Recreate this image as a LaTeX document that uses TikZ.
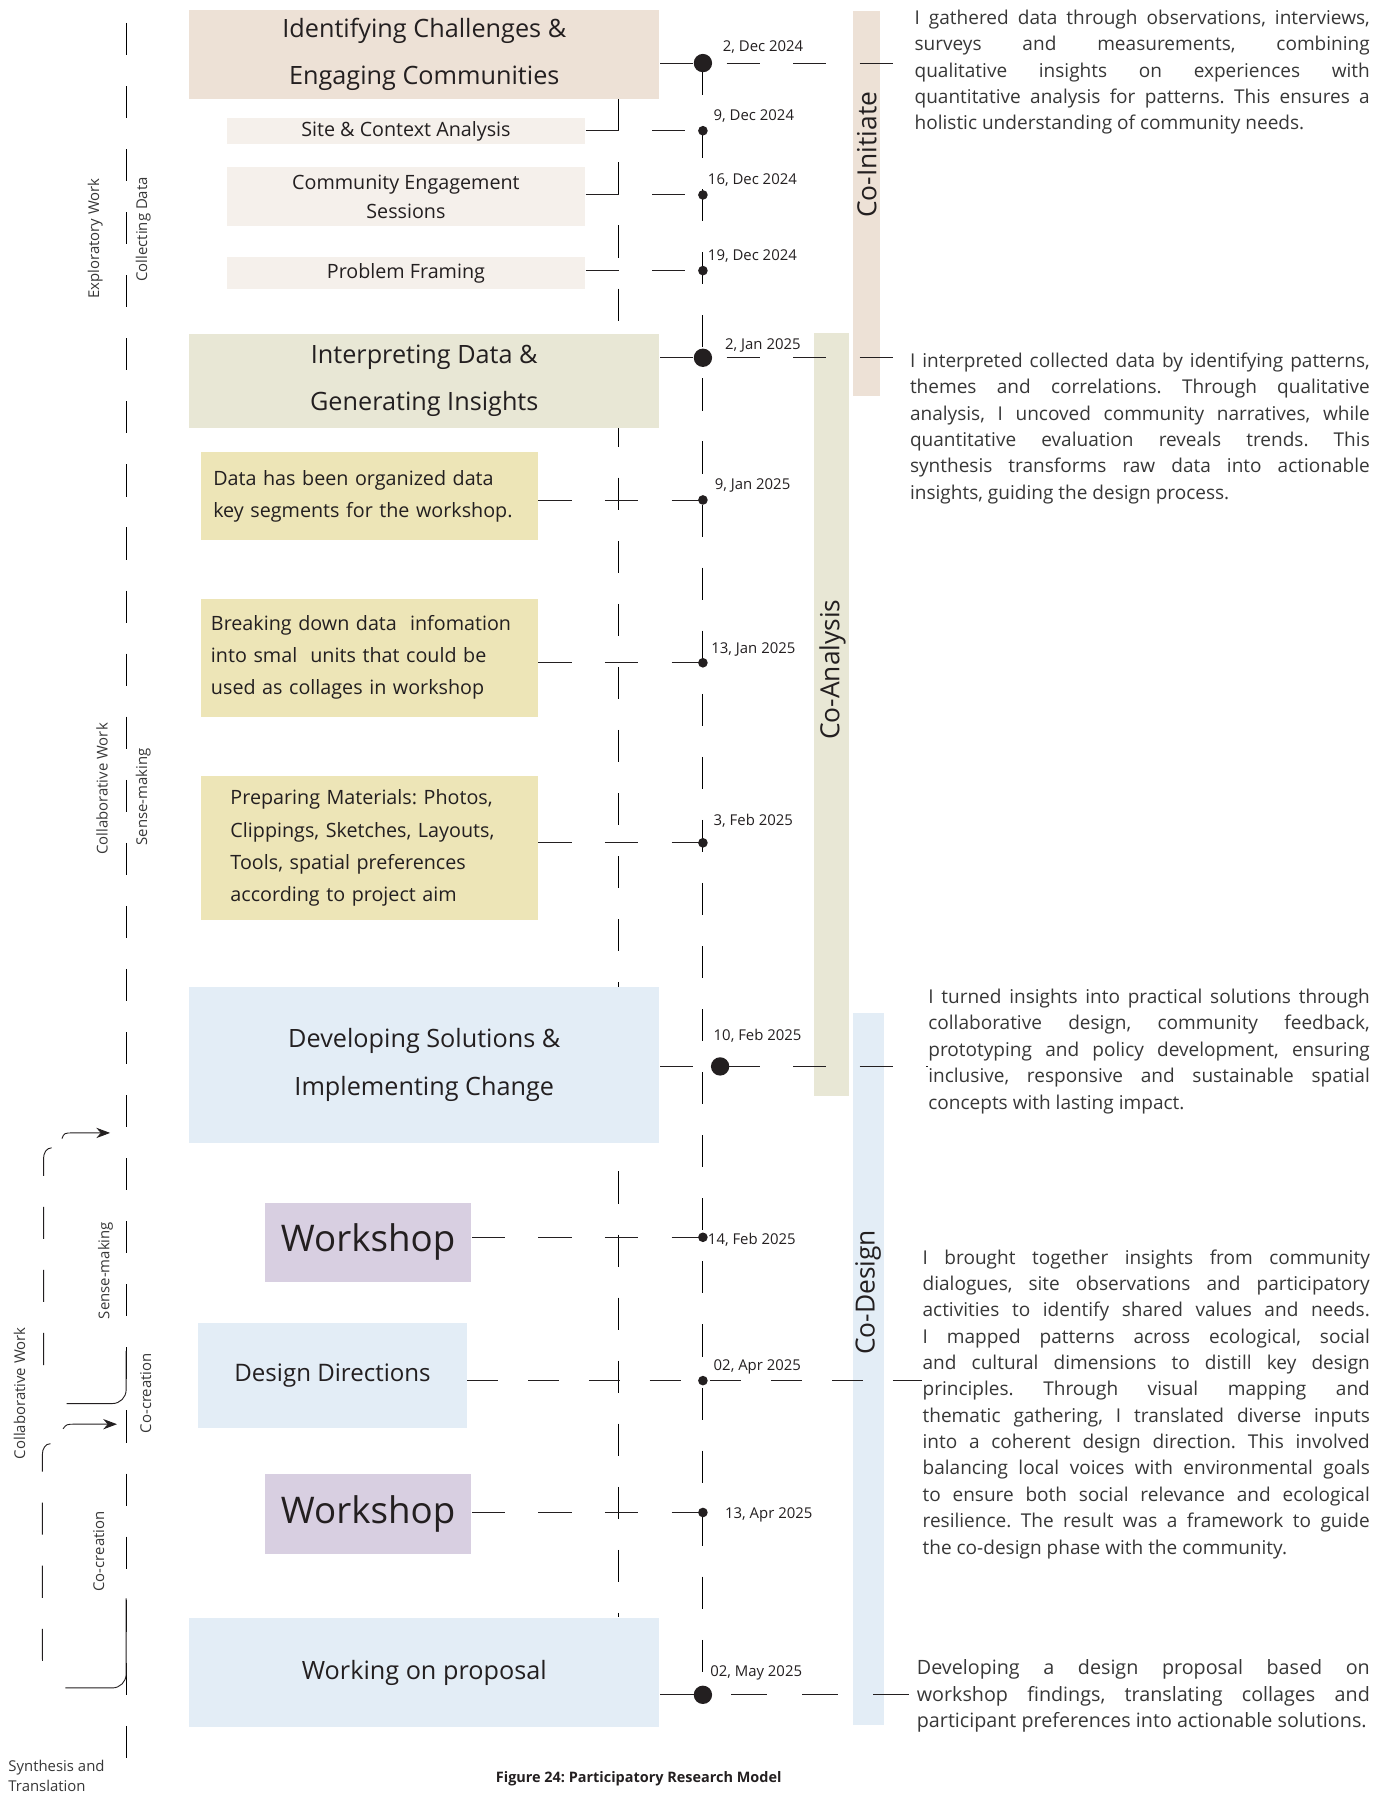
\documentclass[tikz,border=0pt]{standalone}
\usepackage{fontspec}
\setmainfont{Open Sans}
\usepackage{tikz}
\usetikzlibrary{backgrounds,arrows.meta}
\definecolor{ink}{RGB}{35,31,32}
\definecolor{notegray}{RGB}{55,55,55}
\definecolor{challengebg}{RGB}{237,225,214}
\definecolor{framebg}{RGB}{245,240,235}
\definecolor{insightbg}{RGB}{232,231,213}
\definecolor{databg}{RGB}{237,229,183}
\definecolor{solutionbg}{RGB}{227,237,246}
\definecolor{workshopbg}{RGB}{216,207,225}
\frenchspacing

\begin{document}
\begin{tikzpicture}[x=0.5pt,y=-0.5pt,>={Stealth[length=6pt,width=4.5pt]},line width=0.6pt,ink,
  box/.style={inner sep=0pt,align=center},
  titlebox/.style={box,minimum width=205pt,font=\fontsize{11}{20.5}\selectfont},
  framebox/.style={box,fill=framebg,minimum width=156pt,font=\fontsize{8.6}{12.5}\selectfont},
  databox/.style={fill=databg,inner ysep=0pt,align=left,font=\fontsize{8.6}{14}\selectfont},
  dashline/.style={dash pattern=on 14.5pt off 14.5pt},
  railline/.style={dash pattern=on 14pt off 13.5pt},
  datelbl/.style={anchor=west,inner sep=0pt,font=\fontsize{6.5}{8}\selectfont},
  note/.style={anchor=north west,inner sep=0pt,align=justify,text=notegray,font=\fontsize{8.3}{11.5}\selectfont},
  phase/.style={rotate=90,inner sep=0pt,font=\fontsize{11.5}{13}\selectfont},
  side/.style={rotate=90,inner sep=0pt,text=notegray,font=\fontsize{6.5}{8}\selectfont}]
  \useasboundingbox (0,0) rectangle (1209,1568);

  % stage boxes
  \node[titlebox,fill=challengebg,minimum height=38.5pt] (challenge) at (370,47.5)
    {Identifying Challenges \&\\Engaging Communities};
  \node[framebox,minimum height=11.5pt] (site) at (354,114.5) {Site \& Context Analysis};
  \node[framebox,minimum height=25.5pt] (engage) at (354,171.5) {Community Engagement\\Sessions};
  \node[framebox,minimum height=14pt] (framing) at (354,238) {Problem Framing};
  \node[titlebox,fill=insightbg,minimum height=41pt] (insight) at (370,332)
    {Interpreting Data \&\\Generating Insights};
  \node[databox,inner xsep=5.5pt,text width=136pt,minimum height=38.5pt] (organize) at (322,432.5)
    {Data has been organized data\\key segments for the workshop.};
  \node[databox,inner xsep=4.5pt,text width=138pt,minimum height=51.5pt] (breakdown) at (322,573.5)
    {Breaking down data\ \ infomation\\into smal\ \ units that could be\\used as collages in workshop};
  \node[databox,inner xsep=13pt,text width=121pt,minimum height=62.5pt] (materials) at (322,739.5)
    {Preparing Materials: Photos,\\Clippings, Sketches, Layouts,\\Tools, spatial preferences\\according to project aim};
  \node[titlebox,fill=solutionbg,minimum height=68pt,font=\fontsize{11}{21}\selectfont] (solution) at (370,929)
    {Developing Solutions \&\\Implementing Change};
  \node[box,fill=workshopbg,minimum width=90pt,minimum height=34.5pt,font=\fontsize{16}{18}\selectfont] (workshopA) at (321,1083.5) {Workshop};
  \node[box,fill=solutionbg,minimum width=117pt,minimum height=45.5pt,font=\fontsize{10.5}{12}\selectfont] (directions) at (290,1199.5) {Design Directions};
  \node[box,fill=workshopbg,minimum width=90pt,minimum height=35pt,font=\fontsize{16}{18}\selectfont] (workshopB) at (321,1320) {Workshop};
  \node[titlebox,fill=solutionbg,minimum height=47.5pt] (proposal) at (370,1458.5) {Working on proposal};

  % phase bars
  \node[box,fill=challengebg,minimum width=11.5pt,minimum height=167.5pt] (coinit) at (755.5,177.5) {};
  \node[box,fill=insightbg,minimum width=15pt,minimum height=333pt] (coanalysis) at (725,623) {};
  \node[box,fill=solutionbg,minimum width=13.5pt,minimum height=310.5pt] (codesign) at (757.5,1193.5) {};
  \node[phase] (coinitlbl) at (756,135) {Co-Initiate};
  \node[phase] (coanalysislbl) at (726,584) {Co-Analysis};
  \node[phase] (codesignlbl) at (757,1127) {Co-Design};

  % notes
  \node[note,text width=198.5pt] (note1) at (797,8)
    {I gathered data through observations, interviews,\linebreak
     surveys and measurements, combining\linebreak
     qualitative insights on experiences with\linebreak
     quantitative analysis for patterns. This ensures a\linebreak
     holistic understanding of community needs.};
  \node[note,text width=200.5pt] (note2) at (793,307)
    {I interpreted collected data by identifying patterns,\linebreak
     themes and correlations. Through qualitative\linebreak
     analysis, I uncoved community narratives, while\linebreak
     quantitative evaluation reveals trends. This\linebreak
     synthesis transforms raw data into actionable\linebreak
     insights, guiding the design process.};
  \node[note,text width=192.5pt] (note3) at (809,862)
    {I turned insights into practical solutions through\linebreak
     collaborative design, community feedback,\linebreak
     prototyping and policy development, ensuring\linebreak
     inclusive, responsive and sustainable spatial\linebreak
     concepts with lasting impact.};
  \node[note,text width=195pt] (note4) at (804,1089)
    {I brought together insights from community\linebreak
     dialogues, site observations and participatory\linebreak
     activities to identify shared values and needs.\linebreak
     I mapped patterns across ecological, social\linebreak
     and cultural dimensions to distill key design\linebreak
     principles. Through visual mapping and\linebreak
     thematic gathering, I translated diverse inputs\linebreak
     into a coherent design direction. This involved\linebreak
     balancing local voices with environmental goals\linebreak
     to ensure both social relevance and ecological\linebreak
     resilience. The result was a framework to guide\linebreak
     the co-design phase with the community.};
  \node[note,text width=197.5pt,font=\fontsize{8.6}{11.5}\selectfont] (note5) at (799,1447)
    {Developing a design proposal based on\linebreak
     workshop findings, translating collages and\linebreak
     participant preferences into actionable solutions.};

  % timeline points
  \coordinate (t1) at (613,55);
  \coordinate (t2) at (613,114);
  \coordinate (t3) at (613,170);
  \coordinate (t4) at (613,236);
  \coordinate (t5) at (613,312);
  \coordinate (t6) at (613,436);
  \coordinate (t7) at (613,578);
  \coordinate (t8) at (613,735);
  \coordinate (t9) at (628,930);
  \coordinate (t10) at (613,1079);
  \coordinate (t11) at (613,1204);
  \coordinate (t12) at (613,1319);
  \coordinate (t13) at (613,1478);
  \coordinate (spine) at (539,0);

  \begin{pgfonlayer}{background}
    \draw[railline] (challenge.south -| spine) -- (proposal.north -| spine);
    \draw[railline] (t1) -- (t13);
    \draw[railline] (110,20) -- (110,1552);
  \end{pgfonlayer}

  % connectors
  \draw[dashline] (t1 -| challenge.east) -- (t1 -| note1.west);
  \draw[dashline] (t2 -| site.east) -- (t2);
  \draw[dashline] (t3 -| engage.east) -- (t3);
  \draw[dashline] (t4 -| framing.east) -- (t4);
  \draw[dashline] (t5 -| insight.east) -- (t5 -| note2.west);
  \draw[dashline] (t6 -| organize.east) -- (t6);
  \draw[dashline] (t7 -| breakdown.east) -- (t7);
  \draw[dashline] (t8 -| materials.east) -- (t8);
  \draw[dashline] (t9 -| solution.east) -- (t9 -| note3.west);
  \draw[dashline] (t10 -| workshopA.east) -- (t10);
  \draw[dash pattern=on 13.5pt off 13pt] (t11 -| directions.east) -- (t11 -| note4.west);
  \draw[dashline] (t12 -| workshopB.east) -- (t12);
  \draw[dash pattern=on 15.5pt off 15.5pt] (t13 -| proposal.east) -- (t13 -| note5.west);

  \foreach \p in {t1,t5,t9,t13} \fill (\p) circle (4pt);
  \foreach \p in {t2,t3,t4,t6,t7,t8,t10,t11,t12} \fill (\p) circle (2.1pt);

  % dates
  \node[datelbl] (d1) at (630,41) {2, Dec 2024};
  \node[datelbl] (d2) at (622,101) {9, Dec 2024};
  \node[datelbl] (d3) at (617,157) {16, Dec 2024};
  \node[datelbl] (d4) at (617,223) {19, Dec 2024};
  \node[datelbl] (d5) at (632,301) {2, Jan 2025};
  \node[datelbl] (d6) at (623,423) {9, Jan 2025};
  \node[datelbl] (d7) at (620,566) {13, Jan 2025};
  \node[datelbl] (d8) at (622,716) {3, Feb 2025};
  \node[datelbl] (d9) at (622,903) {10, Feb 2025};
  \node[datelbl] (d10) at (617,1081) {14, Feb 2025};
  \node[datelbl] (d11) at (622,1192) {02, Apr 2025};
  \node[datelbl] (d12) at (632,1321) {13, Apr 2025};
  \node[datelbl] (d13) at (619,1459) {02, May 2025};

  % left column
  \node[side] (explore) at (83,208) {Exploratory Work};
  \node[side] (collect) at (125,200) {Collecting Data};
  \node[side] (collabA) at (89,688) {Collaborative Work};
  \node[side] (senseA) at (125,695) {Sense-making};
  \node[side] (senseB) at (92,1108) {Sense-making};
  \node[side] (cocreateA) at (127,1215) {Co-creation};
  \node[side] (collabB) at (17,1215) {Collaborative Work};
  \node[side] (cocreateB) at (86,1353) {Co-creation};
  \node[anchor=north west,inner sep=0pt,align=left,text=notegray,font=\fontsize{6.5}{8.5}\selectfont] (synth)
    at (7,1535) {Synthesis and\\Translation};

  \draw[railline] (45,1001) to[out=180,in=90] (38,1010) -- (38,1200) to[out=-90,in=180] (42,1208);
  \draw[railline] (44,1259) to[out=180,in=90] (37,1268) -- (37,1446) to[out=-90,in=180] (41,1455);
  \draw (110,1178) -- (110,1212) to[out=-90,in=0] (98,1224) -- (58,1224);
  \draw (110,1394) -- (110,1460) to[out=-90,in=0] (98,1472) -- (57,1472);
  \draw[->] (54,993) .. controls (56,988) .. (64,988) -- (96,988);
  \draw[->] (55,1246) .. controls (58,1242) .. (66,1242) -- (102,1242);

  \node[inner sep=0pt,font=\fontsize{6.3}{8}\selectfont\bfseries] (caption) at (557,1551)
    {Figure 24: Participatory Research Model};
\end{tikzpicture}
\end{document}
